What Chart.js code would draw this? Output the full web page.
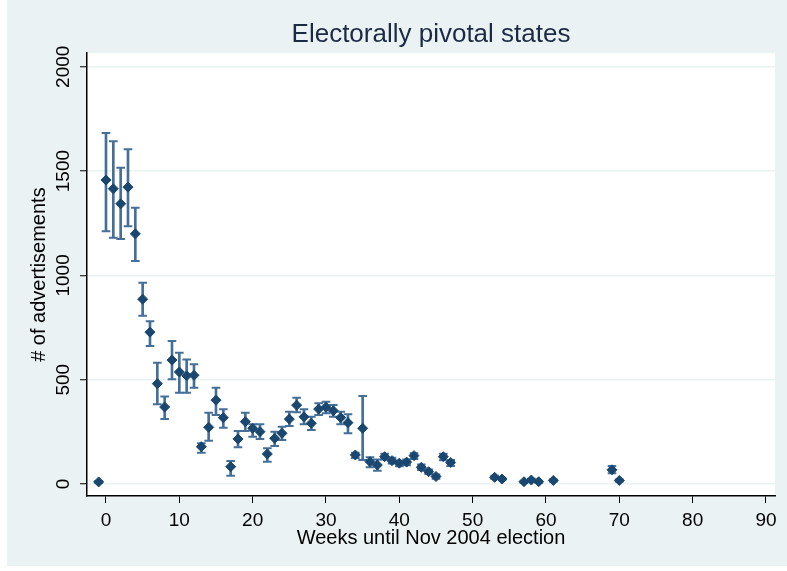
<!DOCTYPE html>
<html lang="en">
  <head>
    <meta charset="UTF-8" />
    <title>Electorally pivotal states</title>
    <script src="https://cdn.jsdelivr.net/npm/chart.js"></script>
    <style>
      html,
      body {
        margin: 0;
        padding: 0;
        background-color: #ffffff;
      }
      #wrap {
        width: 787px;
        height: 571px;
      }
    </style>
  </head>
  <body>
    <div id="wrap"><canvas id="adsChart" width="787" height="571"></canvas></div>

    <script>
      // weeks before the election and weekly number of ads (with interval bounds)
      const weeks = [
        -1, 0, 1, 2, 3, 4, 5, 6, 7, 8, 9, 10, 11, 12, 13, 14, 15, 16, 17, 18, 19,
        20, 21, 22, 23, 24, 25, 26, 27, 28, 29, 30, 31, 32, 33, 34, 35, 36, 37,
        38, 39, 40, 41, 42, 43, 44, 45, 46, 47, 53, 54, 57, 58, 59, 61, 69, 70,
      ];
      const ads = [
        10, 1457, 1415, 1343, 1423, 1199, 886, 728, 481, 369, 594, 537, 519, 521,
        179, 272, 402, 318, 83, 216, 299, 267, 251, 144, 219, 243, 311, 378, 322,
        291, 359, 368, 351, 318, 294, 139, 267, 107, 91, 131, 112, 100, 105, 136,
        80, 59, 36, 131, 103, 32, 24, 11, 19, 11, 17, 68, 17,
      ];
      const adsLow = [
        6, 1212, 1180, 1174, 1236, 1069, 806, 661, 382, 311, 502, 437, 437, 461,
        150, 207, 331, 270, 40, 176, 254, 227, 216, 107, 182, 211, 278, 344, 286,
        259, 331, 339, 322, 286, 243, 125, 115, 80, 64, 118, 98, 85, 90, 120, 67,
        48, 25, 114, 86, 24, 18, 6, 13, 6, 12, 51, 12,
      ];
      const adsHigh = [
        14, 1683, 1643, 1516, 1604, 1324, 965, 780, 581, 420, 685, 629, 597, 574,
        195, 342, 461, 358, 110, 254, 342, 286, 286, 171, 251, 275, 346, 414, 358,
        322, 387, 394, 379, 346, 334, 150, 422, 128, 118, 145, 126, 112, 118, 148,
        93, 70, 45, 145, 115, 40, 30, 16, 25, 16, 22, 86, 22,
      ];
      const xTicks = [0, 10, 20, 30, 40, 50, 60, 70, 80, 90];
      const yTicks = [0, 500, 1000, 1500, 2000];

      const navy = "#1a476f";
      const barColor = "#456f98";
      const bgColor = "#eaf2f3";
      const fontFam = "'Liberation Sans', Arial, sans-serif";

      const fondo = {
        id: "fondo",
        beforeDraw(chart) {
          const { ctx, chartArea } = chart;
          ctx.save();
          ctx.fillStyle = "#ffffff";
          ctx.fillRect(0, 0, chart.width, chart.height);
          ctx.fillStyle = bgColor;
          ctx.fillRect(7, 0, chart.width - 7, 566);
          ctx.fillStyle = "#ffffff";
          ctx.fillRect(
            chartArea.left,
            chartArea.top,
            chartArea.right - chartArea.left,
            chartArea.bottom - chartArea.top
          );
          ctx.restore();
        },
      };

      const ctx = document.getElementById("adsChart").getContext("2d");
      new Chart(ctx, {
        type: "scatter",
        data: {
          datasets: [
            {
              type: "scatter",
              data: weeks.map((w, i) => ({ x: w, y: ads[i] })),
              pointStyle: "rectRot",
              pointRadius: 5,
              pointBorderWidth: 1,
              backgroundColor: navy,
              borderColor: navy,
              order: 0,
            },
            {
              type: "bar",
              data: weeks.map((w, i) => ({ x: w, y: [adsLow[i], adsHigh[i]] })),
              backgroundColor: barColor,
              barThickness: 2,
              grouped: false,
              order: 2,
            },
            {
              type: "scatter",
              data: weeks.map((w, i) => ({ x: w, y: adsLow[i] })),
              pointStyle: "line",
              pointRadius: 4.3,
              pointBorderWidth: 2,
              borderColor: barColor,
              order: 1,
            },
            {
              type: "scatter",
              data: weeks.map((w, i) => ({ x: w, y: adsHigh[i] })),
              pointStyle: "line",
              pointRadius: 4.3,
              pointBorderWidth: 2,
              borderColor: barColor,
              order: 1,
            },
          ],
        },
        options: {
          responsive: false,
          animation: false,
          events: [],
          layout: { padding: { left: 0, right: 12, top: 0, bottom: 0 } },
          plugins: {
            legend: { display: false },
            tooltip: { enabled: false },
            title: {
              display: true,
              fullSize: false,
              text: "Electorally pivotal states",
              color: "#1d2a44",
              font: { family: fontFam, size: 26, weight: "normal" },
              padding: { top: 19, bottom: 3 },
            },
          },
          scales: {
            x: {
              type: "linear",
              min: -2.59,
              max: 91.23,
              offset: false,
              afterFit(scale) {
                scale.height = 75;
              },
              afterBuildTicks(scale) {
                scale.ticks = xTicks.map((v) => ({ value: v }));
              },
              border: { color: "#000000", width: 1.5 },
              grid: {
                offset: false,
                drawOnChartArea: false,
                tickLength: 7,
                tickColor: "#000000",
                tickWidth: 1,
              },
              ticks: {
                color: "#000000",
                padding: 6,
                maxRotation: 0,
                autoSkip: false,
                font: { family: fontFam, size: 19 },
                callback: (v) => String(v),
              },
              title: {
                display: true,
                text: "Weeks until Nov 2004 election",
                color: "#000000",
                font: { family: fontFam, size: 20 },
                padding: { top: 0, bottom: 21 },
              },
            },
            y: {
              type: "linear",
              min: -57.5,
              max: 2065,
              afterFit(scale) {
                scale.width = 87;
              },
              afterBuildTicks(scale) {
                scale.ticks = yTicks.map((v) => ({ value: v }));
              },
              border: { color: "#000000", width: 1.5 },
              grid: {
                color: bgColor,
                lineWidth: 1.5,
                tickLength: 7,
                tickColor: "#000000",
                tickWidth: 1,
              },
              ticks: {
                color: "#000000",
                minRotation: 90,
                maxRotation: 90,
                crossAlign: "center",
                padding: -5,
                autoSkip: false,
                font: { family: fontFam, size: 19 },
                callback: (v) => String(v),
              },
              title: {
                display: true,
                text: "# of advertisements",
                color: "#000000",
                font: { family: fontFam, size: 20 },
                padding: { top: 27, bottom: 0 },
              },
            },
          },
        },
        plugins: [fondo],
      });
    </script>
  </body>
</html>
